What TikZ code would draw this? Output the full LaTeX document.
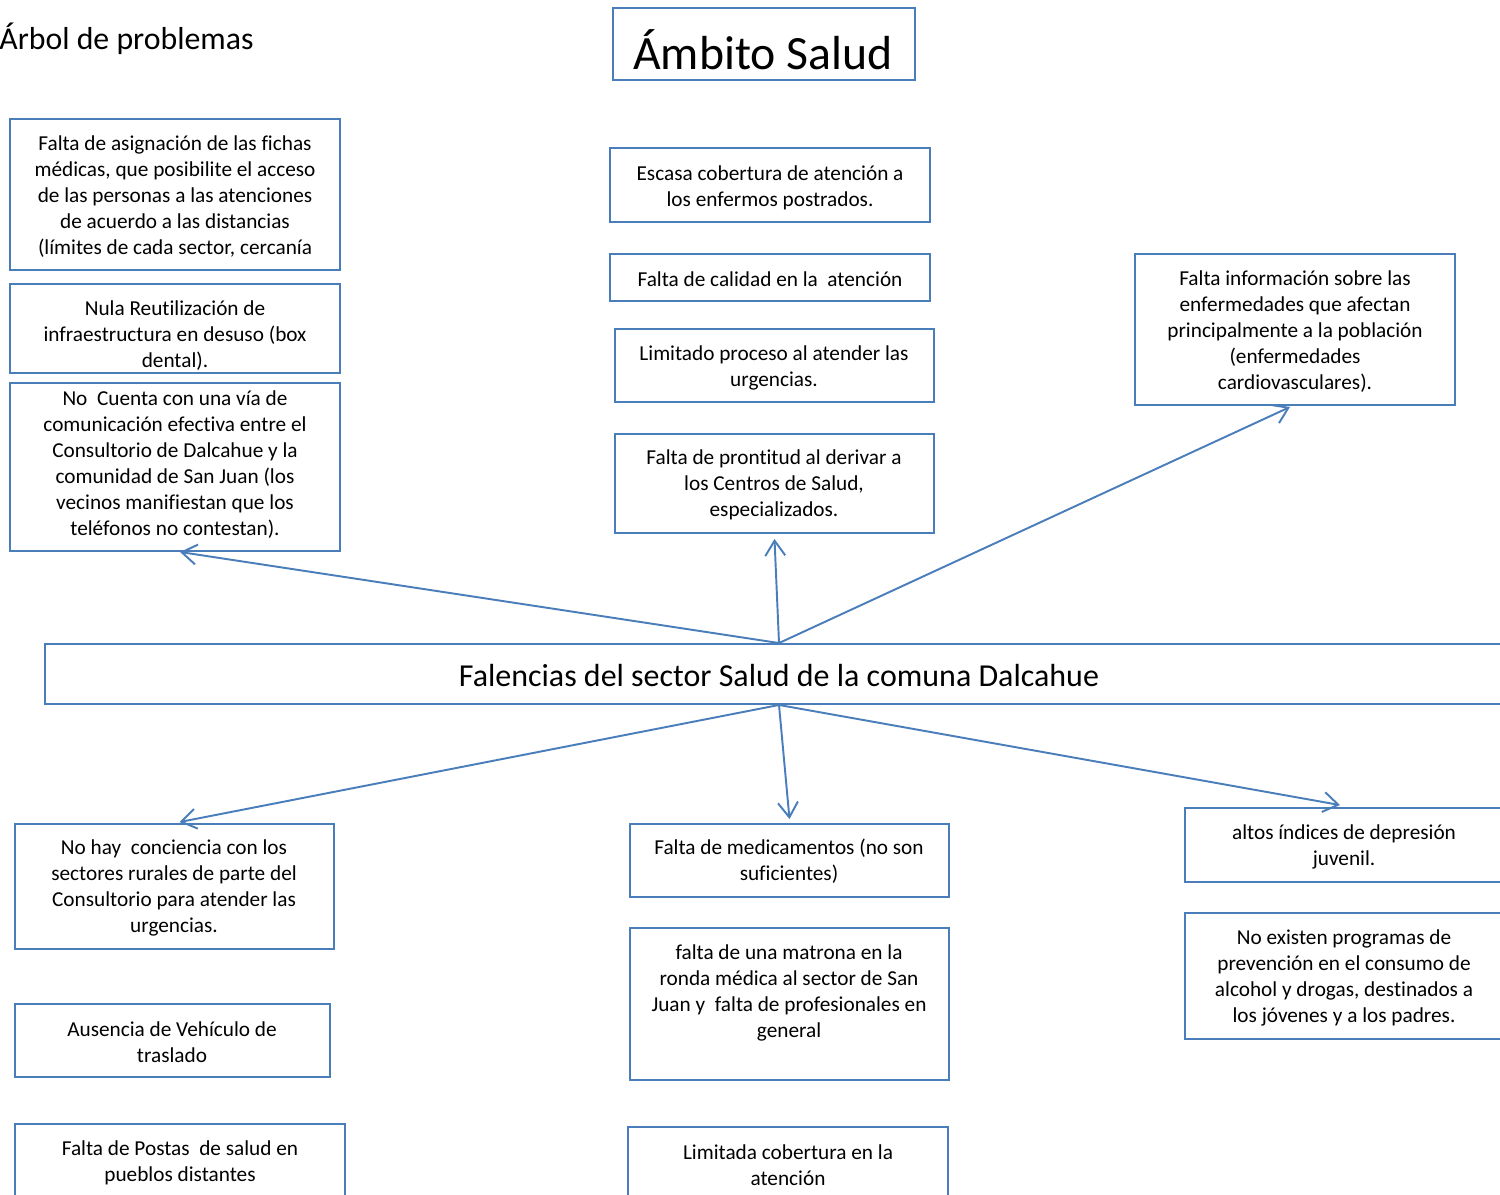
\documentclass[tikz,border=0pt]{standalone}
\usepackage{fontspec}
\setmainfont{Carlito}[Ligatures={NoCommon,TeX}]
\usetikzlibrary{arrows.meta,calc,fit}
\definecolor{bl}{HTML}{4A7EBB}
\begin{document}
\begin{tikzpicture}[x=0.02cm,y=-0.02cm,
  box/.style={draw=bl,line width=1.1pt,inner sep=0pt},
  txt/.style={align=center,inner sep=0pt,font=\fontsize{12.1}{14.74}\selectfont},
  arr/.style={draw=bl,line width=1.1pt,-{Straight Barb[length=0.3cm,width=0.4cm]}}]
\useasboundingbox (0,0) rectangle (1500,1194);
\clip (0,0) rectangle (1500,1194);
\fill[white] (0,0) rectangle (1500,1194);

\node[inner sep=0pt,anchor=west,font=\fontsize{18.1}{21}\selectfont] (arbol) at (-1,39) {Árbol de problemas};

\node[box,fit={(613,8) (915,80)}] (D) {};
\node[inner sep=0pt,font=\fontsize{27.2}{32}\selectfont] (Dt) at (763,50) {Ámbito Salud};

\node[box,fit={(10,119) (340,270)}] (A) {};
\node[txt] (At) at (175,196.5) {Falta de asignación de las fichas\\médicas, que posibilite el acceso\\de las personas a las atenciones\\de acuerdo a las distancias\\(límites de cada sector, cercanía};

\node[box,fit={(10,284) (340,373)}] (B) {};
\node[txt] (Bt) at (175,335.5) {Nula Reutilización de\\infraestructura en desuso (box\\dental).};

\node[box,fit={(10,383) (340,551)}] (C) {};
\node[txt] (Ct) at (175,464.5) {No\ \ Cuenta con una vía de\\comunicación efectiva entre el\\Consultorio de Dalcahue y la\\comunidad de San Juan (los\\vecinos manifiestan que los\\teléfonos no contestan).};

\node[box,fit={(610,148) (930,222)}] (E) {};
\node[txt] (Et) at (770,187.5) {Escasa cobertura de atención a\\los enfermos postrados.};

\node[box,fit={(610,254) (930,301)}] (F) {};
\node[txt] (Ft) at (770,279.5) {Falta de calidad en la\ \ atención};

\node[box,fit={(615,329) (934,402)}] (G) {};
\node[txt] (Gt) at (774,367.5) {Limitado proceso al atender las\\urgencias.};

\node[box,fit={(615,434) (934,533)}] (P1) {};
\node[txt] (P1t) at (774,485) {Falta de prontitud al derivar a\\los Centros de Salud,\\especializados.};

\node[box,fit={(1135,254) (1455,405)}] (H) {};
\node[txt] (Ht) at (1295,331.5) {Falta información sobre las\\enfermedades que afectan\\principalmente a la población\\(enfermedades\\cardiovasculares).};

\node[box,fit={(45,644) (1513,704)}] (central) {};
\node[inner sep=0pt,font=\fontsize{18.2}{21}\selectfont] (centralt) at (779,676) {Falencias del sector Salud de la comuna Dalcahue};

\node[box,fit={(15,824) (334,949)}] (J) {};
\node[txt] (Jt) at (174,888) {No hay\ \ conciencia con los\\sectores rurales de parte del\\Consultorio para atender las\\urgencias.};

\node[box,fit={(15,1004) (330,1077)}] (K) {};
\node[txt] (Kt) at (172,1042.5) {Ausencia de Vehículo de\\traslado};

\node[box,fit={(15,1124) (345,1210)}] (L) {};
\node[txt] (Lt) at (180,1162.5) {Falta de Postas\ \ de salud en\\pueblos distantes};

\node[box,fit={(630,824) (949,897)}] (M) {};
\node[txt] (Mt) at (789,861.5) {Falta de medicamentos (no son\\suficientes)};

\node[box,fit={(630,928) (949,1080)}] (N) {};
\node[txt] (Nt) at (789,993) {falta de una matrona en la\\ronda médica al sector de San\\Juan y\ \ falta de profesionales en\\general};

\node[box,fit={(628,1127) (948,1210)}] (O) {};
\node[txt] (Ot) at (788,1165.5) {Limitada cobertura en la\\atención};

\node[box,fit={(1185,808) (1503,882)}] (P) {};
\node[txt] (Pt) at (1344,846.5) {altos índices de depresión\\juvenil.};

\node[box,fit={(1185,913) (1503,1039)}] (Q) {};
\node[txt] (Qt) at (1344,978) {No existen programas de\\prevención en el consumo de\\alcohol y drogas, destinados a\\los jóvenes y a los padres.};

\draw[arr] (central.north) -- ($(C.south)+(5,0)$);
\draw[arr] (central.north) -- ($(P1.south)+(0,5)$);
\draw[arr] (central.north) -- ($(H.south)+(-5,1)$);
\draw[arr] (central.south) -- ($(J.north)+(5,-1)$);
\draw[arr] (central.south) -- ($(M.north)+(0,-4)$);
\draw[arr] (central.south) -- ($(P.north)+(-4,-2)$);
\end{tikzpicture}
\end{document}
